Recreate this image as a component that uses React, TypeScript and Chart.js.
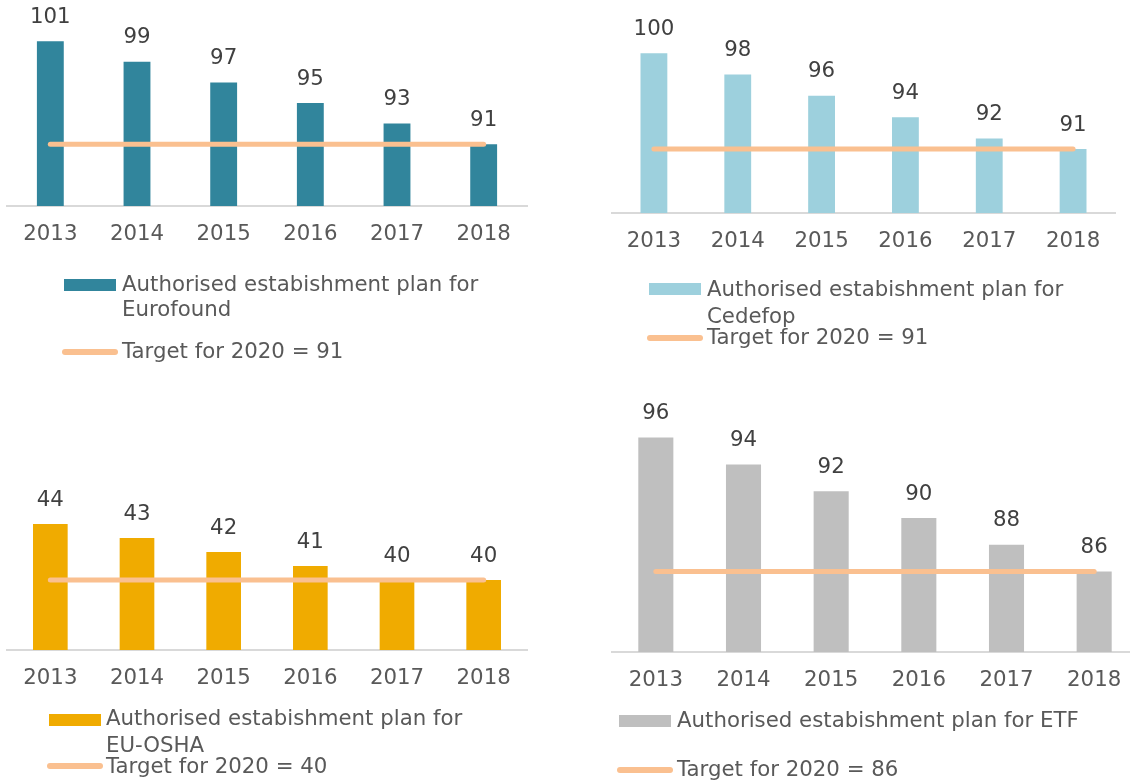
import React, { useEffect, useRef } from 'react';
import { Chart, registerables } from 'chart.js';

Chart.register(...registerables);

// ---------- data ----------
const years = ['2013', '2014', '2015', '2016', '2017', '2018'];

const eurofoundPlan = [101, 99, 97, 95, 93, 91];
const cedefopPlan = [100, 98, 96, 94, 92, 91];
const euoshaPlan = [44, 43, 42, 41, 40, 40];
const etfPlan = [96, 94, 92, 90, 88, 86];

const eurofoundTarget = [91, 91, 91, 91, 91, 91];
const cedefopTarget = [91, 91, 91, 91, 91, 91];
const euoshaTarget = [40, 40, 40, 40, 40, 40];
const etfTarget = [86, 86, 86, 86, 86, 86];

const planLabels = [
  'Authorised estabishment plan for Eurofound',
  'Authorised estabishment plan for Cedefop',
  'Authorised estabishment plan for EU-OSHA',
  'Authorised estabishment plan for ETF',
];
const targetLabels = [
  'Target for 2020 = 91',
  'Target for 2020 = 91',
  'Target for 2020 = 40',
  'Target for 2020 = 86',
];

const yMins = [85, 85, 35, 80];
const yMaxs = [105, 105, 50, 100];

// ---------- styles / layout ----------
const FONT = 'DejaVu Sans';
const FSIZE = 21.3;
const TEXT_GREY = '#595959';
const LABEL_DARK = '#404040';
const TARGET_COLOR = '#FAC090';
const AXIS_H = 40;

type PanelCfg = {
  left: number; top: number; width: number; height: number;
  area: { l: number; t: number; r: number; b: number };
  barPct: number; color: string;
  plan: number[]; target: number[]; planLabel: string; targetLabel: string;
  yMin: number; yMax: number;
  legend: {
    box: { x: number; y: number; w: number; h: number };
    textX: number; text1Y: number; gap: number;
    line: { x1: number; x2: number; y: number }; targetY: number;
  };
};

const panels: PanelCfg[] = [
  {
    left: 0, top: 0, width: 565, height: 380,
    area: { l: 7, t: 0, r: 527, b: 206 },
    barPct: 0.31, color: '#31859C',
    plan: eurofoundPlan, target: eurofoundTarget,
    planLabel: planLabels[0], targetLabel: targetLabels[0],
    yMin: yMins[0], yMax: yMaxs[0],
    legend: {
      box: { x: 64, y: 279, w: 52, h: 12 }, textX: 122, text1Y: 285, gap: 25,
      line: { x1: 65, x2: 115, y: 352 }, targetY: 352,
    },
  },
  {
    left: 565, top: 0, width: 565, height: 380,
    area: { l: 612, t: 0, r: 1115, b: 213 },
    barPct: 0.32, color: '#9DD0DD',
    plan: cedefopPlan, target: cedefopTarget,
    planLabel: planLabels[1], targetLabel: targetLabels[1],
    yMin: yMins[1], yMax: yMaxs[1],
    legend: {
      box: { x: 649, y: 283, w: 52, h: 12 }, textX: 707, text1Y: 290, gap: 27,
      line: { x1: 650, x2: 700, y: 338 }, targetY: 338,
    },
  },
  {
    left: 0, top: 380, width: 565, height: 401,
    area: { l: 7, t: 440, r: 527, b: 650 },
    barPct: 0.40, color: '#F0AB00',
    plan: euoshaPlan, target: euoshaTarget,
    planLabel: planLabels[2], targetLabel: targetLabels[2],
    yMin: yMins[2], yMax: yMaxs[2],
    legend: {
      box: { x: 49, y: 714, w: 52, h: 12 }, textX: 106, text1Y: 719, gap: 27,
      line: { x1: 50, x2: 100, y: 766 }, targetY: 767,
    },
  },
  {
    left: 565, top: 380, width: 580, height: 401,
    area: { l: 612, t: 384, r: 1138, b: 652 },
    barPct: 0.40, color: '#BFBFBF',
    plan: etfPlan, target: etfTarget,
    planLabel: planLabels[3], targetLabel: targetLabels[3],
    yMin: yMins[3], yMax: yMaxs[3],
    legend: {
      box: { x: 619, y: 715, w: 52, h: 12 }, textX: 677, text1Y: 721, gap: 27,
      line: { x1: 620, x2: 670, y: 770 }, targetY: 770,
    },
  },
];

function wrapText(ctx: CanvasRenderingContext2D, text: string, maxW: number): string[] {
  const words = text.split(' ');
  const lines: string[] = [];
  let cur = '';
  for (const w of words) {
    const test = cur ? cur + ' ' + w : w;
    if (ctx.measureText(test).width > maxW && cur) {
      lines.push(cur);
      cur = w;
    } else {
      cur = test;
    }
  }
  if (cur) lines.push(cur);
  return lines;
}

function Panel({ cfg }: { cfg: PanelCfg }) {
  const ref = useRef<HTMLCanvasElement>(null);

  useEffect(() => {
    const canvas = ref.current;
    if (!canvas) return;

    const valueLabels = {
      id: 'valueLabels',
      afterDatasetsDraw(chart: any) {
        const ctx = chart.ctx as CanvasRenderingContext2D;
        const meta = chart.getDatasetMeta(0);
        const data = chart.data.datasets[0].data as number[];
        ctx.save();
        ctx.font = `${FSIZE}px "${FONT}"`;
        ctx.fillStyle = LABEL_DARK;
        ctx.textAlign = 'center';
        ctx.textBaseline = 'middle';
        meta.data.forEach((el: any, i: number) => {
          ctx.fillText(String(data[i]), el.x, el.y - 24);
        });
        ctx.restore();
      },
    };

    const customLegend = {
      id: 'customLegend',
      afterDraw(chart: any) {
        const ctx = chart.ctx as CanvasRenderingContext2D;
        const L = cfg.legend;
        const ox = cfg.left;
        const oy = cfg.top;
        ctx.save();
        ctx.fillStyle = cfg.color;
        ctx.fillRect(L.box.x - ox, L.box.y - oy, L.box.w, L.box.h);
        ctx.font = `${FSIZE}px "${FONT}"`;
        ctx.fillStyle = TEXT_GREY;
        ctx.textAlign = 'left';
        ctx.textBaseline = 'middle';
        const lines = wrapText(ctx, chart.data.datasets[0].label, 420);
        lines.forEach((ln, i) => {
          ctx.fillText(ln, L.textX - ox, L.text1Y - oy + i * L.gap);
        });
        ctx.strokeStyle = TARGET_COLOR;
        ctx.lineWidth = 6;
        ctx.lineCap = 'round';
        ctx.beginPath();
        ctx.moveTo(L.line.x1 - ox, L.line.y - oy);
        ctx.lineTo(L.line.x2 - ox, L.line.y - oy);
        ctx.stroke();
        ctx.fillText(chart.data.datasets[1].label, L.textX - ox, L.targetY - oy);
        ctx.restore();
      },
    };

    const chart = new Chart(canvas, {
      type: 'bar',
      data: {
        labels: years,
        datasets: [
          {
            type: 'bar',
            label: cfg.planLabel,
            data: cfg.plan,
            backgroundColor: cfg.color,
            categoryPercentage: 1,
            barPercentage: cfg.barPct,
            order: 2,
          },
          {
            type: 'line',
            label: cfg.targetLabel,
            data: cfg.target,
            borderColor: TARGET_COLOR,
            backgroundColor: TARGET_COLOR,
            borderWidth: 5,
            borderCapStyle: 'round',
            pointRadius: 0,
            fill: false,
            order: 1,
          } as any,
        ],
      },
      options: {
        animation: false,
        responsive: false,
        devicePixelRatio: 1,
        layout: {
          padding: {
            left: cfg.area.l - cfg.left,
            top: cfg.area.t - cfg.top,
            right: cfg.left + cfg.width - cfg.area.r,
            bottom: cfg.top + cfg.height - cfg.area.b - AXIS_H,
          },
        },
        plugins: {
          legend: { display: false },
          tooltip: { enabled: false },
          title: { display: false },
        },
        scales: {
          x: {
            grid: { display: false, drawTicks: false },
            border: { display: true, color: '#D9D9D9', width: 2 },
            ticks: {
              color: TEXT_GREY,
              font: { family: FONT, size: FSIZE },
              padding: 16,
              maxRotation: 0,
              autoSkip: false,
            },
            afterFit: (scale: any) => {
              scale.height = AXIS_H;
            },
          },
          y: {
            display: false,
            min: cfg.yMin,
            max: cfg.yMax,
          },
        },
      },
      plugins: [valueLabels, customLegend],
    });

    return () => chart.destroy();
  }, [cfg]);

  return (
    <canvas
      ref={ref}
      width={cfg.width}
      height={cfg.height}
      style={{
        position: 'absolute',
        left: cfg.left,
        top: cfg.top,
        width: cfg.width,
        height: cfg.height,
      }}
    />
  );
}

export default function App() {
  return (
    <div
      style={{
        position: 'absolute',
        left: 0,
        top: 0,
        width: 1130,
        height: 781,
        overflow: 'hidden',
        background: '#ffffff',
      }}
    >
      {panels.map((p, i) => (
        <Panel key={i} cfg={p} />
      ))}
    </div>
  );
}
